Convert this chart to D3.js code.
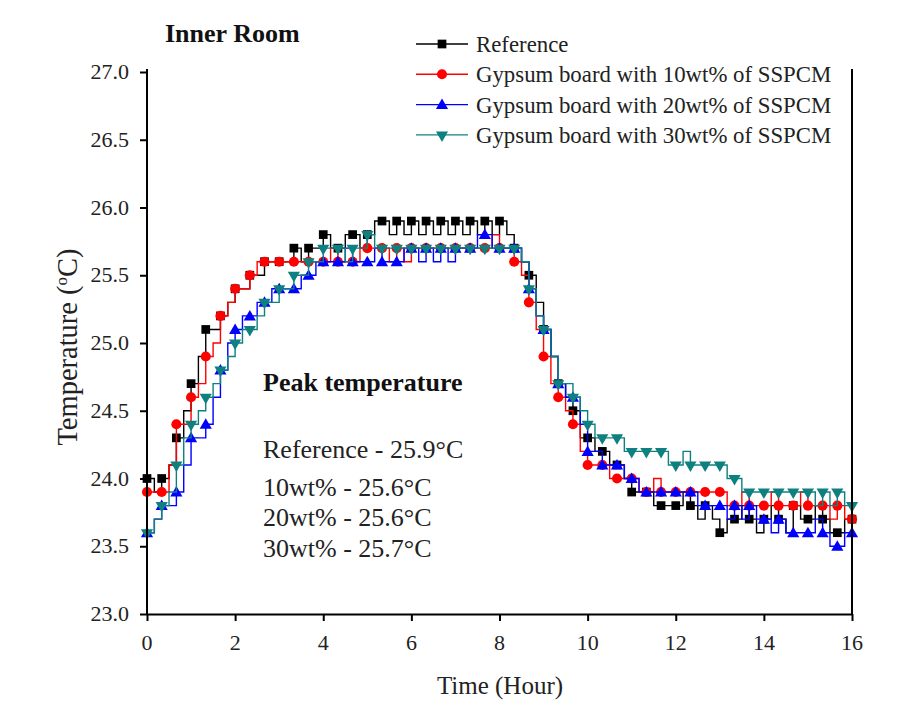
<!DOCTYPE html>
<html>
<head>
<meta charset="utf-8">
<script src="https://cdn.jsdelivr.net/npm/d3@7"></script>
<style>
  html, body { margin: 0; padding: 0; background: #fff; }
  svg { display: block; font-family: "Liberation Serif", "Times New Roman", serif; }
</style>
</head>
<body>
<svg id="chart" width="900" height="705"></svg>
<script>
// ---- data (10-minute samples, 0..16 h) ----
const stepHours = 1 / 6;
const seriesNames = [
  "Reference",
  "Gypsum board with 10wt% of SSPCM",
  "Gypsum board with 20wt% of SSPCM",
  "Gypsum board with 30wt% of SSPCM"
];
const referenceTemp = [
  24.0,23.9,24.0,24.1,24.3,24.5,24.7,24.9,25.1,25.1,25.2,25.3,25.4,25.4,25.5,25.5,
  25.6,25.6,25.6,25.6,25.7,25.6,25.7,25.7,25.8,25.7,25.7,25.8,25.8,25.7,25.8,25.9,
  25.9,25.8,25.9,25.8,25.9,25.8,25.9,25.8,25.9,25.8,25.9,25.8,25.9,25.8,25.9,25.8,
  25.9,25.8,25.7,25.6,25.5,25.3,25.1,24.9,24.7,24.6,24.5,24.3,24.3,24.2,24.2,24.1,
  24.1,24.0,23.9,23.9,23.9,23.8,23.8,23.8,23.8,23.9,23.8,23.7,23.8,23.7,23.6,23.7,
  23.7,23.8,23.7,23.6,23.7,23.8,23.7,23.6,23.8,23.7,23.7,23.8,23.7,23.6,23.6,23.7,
  23.7
];
const ssp10Temp = [
  23.9,23.9,23.9,24.1,24.4,24.4,24.6,24.7,24.9,25.0,25.2,25.3,25.4,25.4,25.5,25.6,
  25.6,25.6,25.6,25.6,25.6,25.6,25.6,25.6,25.6,25.7,25.6,25.6,25.6,25.7,25.7,25.7,
  25.7,25.6,25.7,25.6,25.7,25.7,25.7,25.7,25.7,25.7,25.7,25.7,25.7,25.7,25.7,25.8,
  25.7,25.7,25.6,25.5,25.3,25.1,24.9,24.7,24.6,24.5,24.4,24.2,24.1,24.1,24.1,24.0,
  24.0,24.0,24.0,23.9,23.9,24.0,23.9,23.9,23.9,23.9,23.9,23.9,23.9,23.9,23.9,23.8,
  23.8,23.9,23.8,23.8,23.8,23.9,23.8,23.8,23.8,23.9,23.8,23.8,23.8,23.7,23.8,23.7,
  23.7
];
const ssp20Temp = [
  23.6,23.7,23.8,23.8,23.9,24.1,24.3,24.3,24.4,24.6,24.8,25.0,25.1,25.2,25.2,25.3,
  25.3,25.4,25.4,25.4,25.4,25.5,25.5,25.6,25.6,25.6,25.6,25.7,25.6,25.6,25.6,25.7,
  25.6,25.6,25.6,25.7,25.7,25.6,25.7,25.6,25.7,25.6,25.7,25.7,25.7,25.8,25.8,25.7,
  25.7,25.7,25.7,25.6,25.4,25.2,25.1,24.9,24.7,24.6,24.6,24.4,24.2,24.2,24.1,24.1,
  24.1,24.0,24.0,23.9,23.9,23.9,23.9,23.9,23.9,23.9,23.9,23.8,23.8,23.8,23.8,23.7,
  23.8,23.7,23.8,23.7,23.7,23.6,23.7,23.6,23.6,23.6,23.6,23.7,23.6,23.5,23.5,23.6,
  23.6
];
const ssp30Temp = [
  23.6,23.7,23.8,23.9,24.1,24.3,24.4,24.5,24.6,24.7,24.8,24.9,25.0,25.1,25.1,25.2,
  25.3,25.3,25.4,25.4,25.5,25.5,25.6,25.6,25.7,25.7,25.7,25.6,25.7,25.7,25.8,25.7,
  25.7,25.7,25.7,25.7,25.7,25.7,25.7,25.7,25.7,25.7,25.7,25.7,25.7,25.7,25.7,25.7,
  25.7,25.7,25.7,25.6,25.4,25.2,25.1,24.9,24.7,24.7,24.6,24.5,24.4,24.3,24.3,24.3,
  24.3,24.2,24.2,24.2,24.2,24.2,24.2,24.1,24.1,24.2,24.1,24.1,24.1,24.1,24.1,24.0,
  24.0,23.9,23.9,23.9,23.9,23.9,23.9,23.9,23.9,23.9,23.9,23.8,23.9,23.8,23.9,23.8,
  23.8
];
const seriesColors = ["#000000", "#ff0000", "#0000ff", "#0f8080"];
const seriesSymbols = ["square", "circle", "triangleUp", "triangleDown"];
const xTicks = [0, 2, 4, 6, 8, 10, 12, 14, 16];
const yTicks = [23.0, 23.5, 24.0, 24.5, 25.0, 25.5, 26.0, 26.5, 27.0];
const peakLines = ["Reference - 25.9°C", "10wt% - 25.6°C", "20wt% - 25.6°C", "30wt% - 25.7°C"];

// ---- chart ----
const serif = "Liberation Serif";
const svg = d3.select("#chart");
const x = d3.scaleLinear().domain([0, 16]).range([147, 852]);
const y = d3.scaleLinear().domain([23, 27]).range([614, 72]);

const allSeries = [referenceTemp, ssp10Temp, ssp20Temp, ssp30Temp].map((vals, si) => ({
  name: seriesNames[si],
  color: seriesColors[si],
  symbol: seriesSymbols[si],
  points: vals.map((v, i) => ({ t: i * stepHours, v, i }))
}));

function symbolPath(kind) {
  if (kind === "square") return d3.symbol(d3.symbolSquare, 76)();
  if (kind === "circle") return d3.symbol(d3.symbolCircle, 80)();
  return d3.symbol(d3.symbolTriangle, 64)();
}
function symbolTransform(kind, px, py) {
  if (kind === "triangleDown") return `translate(${px},${py}) rotate(180)`;
  if (kind === "triangleUp") return `translate(${px},${py + 1})`;
  return `translate(${px},${py})`;
}

const line = d3.line().x(d => x(d.t)).y(d => y(d.v)).curve(d3.curveStepAfter);

const plot = svg.append("g");
allSeries.forEach(s => {
  const g = plot.append("g");
  g.append("path").datum(s.points)
    .attr("d", line).attr("fill", "none")
    .attr("stroke", s.color).attr("stroke-width", 1.4);
  g.selectAll("path.mk").data(s.points.filter(p => p.i % 2 === 0)).join("path")
    .attr("class", "mk")
    .attr("d", symbolPath(s.symbol))
    .attr("transform", d => symbolTransform(s.symbol, x(d.t), y(d.v)))
    .attr("fill", s.color);
});

// axes (tick marks via d3.axis; labels placed from the same scales)
const yAxis = d3.axisLeft(y).tickValues(yTicks).tickFormat("").tickSize(7).tickSizeOuter(0);
const gy = svg.append("g").attr("transform", "translate(147,0)").call(yAxis);
const xAxis = d3.axisBottom(x).tickValues(xTicks).tickFormat("").tickSize(7).tickSizeOuter(0);
const gx = svg.append("g").attr("transform", "translate(0,614)").call(xAxis);
[gx, gy].forEach(g => {
  g.select(".domain").attr("stroke", "#000").attr("stroke-width", 2);
  g.selectAll(".tick line").attr("stroke", "#000").attr("stroke-width", 2);
  g.selectAll(".tick text").remove();
});
gy.select(".domain").attr("d", `M0,${y(23)}V69`);
const fmtY = d3.format(".1f");
svg.append("g").selectAll("text").data(yTicks).join("text")
  .attr("x", 129).attr("y", d => y(d) + 7).attr("text-anchor", "end")
  .style("font-family", serif).style("font-size", "22px").attr("fill", "#222")
  .text(d => fmtY(d));
svg.append("g").selectAll("text").data(xTicks).join("text")
  .attr("x", d => x(d)).attr("y", 650).attr("text-anchor", "middle")
  .style("font-family", serif).style("font-size", "22px").attr("fill", "#222")
  .text(d => String(d));

// right border
svg.append("line").attr("x1", x(16)).attr("x2", x(16)).attr("y1", 69).attr("y2", y(23))
  .attr("stroke", "#000").attr("stroke-width", 2);

// axis titles
svg.append("text").attr("x", 500).attr("y", 694).attr("text-anchor", "middle")
  .style("font-size", "25px").attr("fill", "#222").text("Time (Hour)");
const yt = svg.append("text").attr("transform", "translate(77,347) rotate(-90)")
  .attr("text-anchor", "middle").style("font-size", "28.5px").attr("fill", "#222");
yt.append("tspan").text("Temperature (");
yt.append("tspan").attr("dy", -10).style("font-size", "17px").text("o");
yt.append("tspan").attr("dy", 10).text("C)");

// title
svg.append("text").attr("x", 165).attr("y", 42).style("font-size", "26px")
  .style("font-weight", "bold").attr("fill", "#111").text("Inner Room");

// legend
const legend = svg.append("g");
allSeries.forEach((s, i) => {
  const ly = 44 + i * 30.3;
  legend.append("line").attr("x1", 416).attr("x2", 468).attr("y1", ly).attr("y2", ly)
    .attr("stroke", s.color).attr("stroke-width", 1.4);
  legend.append("path").attr("d", symbolPath(s.symbol))
    .attr("transform", symbolTransform(s.symbol, 442, ly)).attr("fill", s.color);
  legend.append("text").attr("x", 476).attr("y", ly + 8).style("font-size", "22.8px")
    .attr("fill", "#222").text(s.name);
});

// annotation
svg.append("text").attr("x", 263).attr("y", 391).style("font-size", "26px")
  .style("font-weight", "bold").attr("fill", "#111").text("Peak temperature");
const peakY = [458, 496, 526, 557];
peakLines.forEach((t, i) => {
  svg.append("text").attr("x", 263).attr("y", peakY[i]).style("font-size", "26px")
    .attr("fill", "#222").text(t);
});
</script>
</body>
</html>
